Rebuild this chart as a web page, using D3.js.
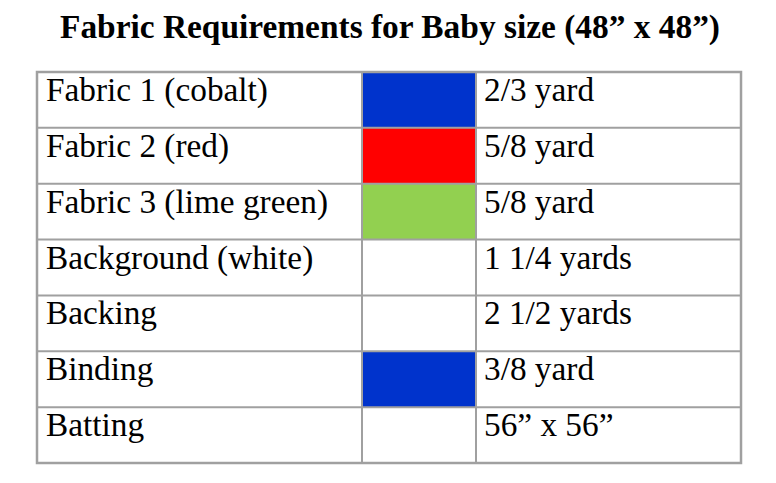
<!DOCTYPE html>
<html>
<head>
<meta charset="utf-8">
<script src="https://cdn.jsdelivr.net/npm/d3@7"></script>
<style>
  html, body { margin: 0; padding: 0; background: #fff; }
  svg { display: block; }
</style>
</head>
<body>
<svg id="chart" width="776" height="483"></svg>
<script>
// ---- data ----
const title = "Fabric Requirements for Baby size (48\u201d x 48\u201d)";
const fabrics = ["Fabric 1 (cobalt)", "Fabric 2 (red)", "Fabric 3 (lime green)", "Background (white)", "Backing", "Binding", "Batting"];
const swatches = ["#0033cc", "#ff0000", "#92d050", null, null, "#0033cc", null];
const amounts = ["2/3 yard", "5/8 yard", "5/8 yard", "1 1/4 yards", "2 1/2 yards", "3/8 yard", "56\u201d x 56\u201d"];

// ---- layout ----
const W = 776, H = 483;
const tableLeft = 37, tableRight = 741, tableTop = 72, tableBottom = 463;
const colEdges = [37, 362, 476, 741];
const gridColor = "#a0a0a0";
const fontFamily = "'Liberation Serif', 'Times New Roman', serif";

const svg = d3.select("#chart");
svg.append("rect").attr("width", W).attr("height", H).attr("fill", "#fff");

svg.append("text")
  .attr("x", (tableLeft + tableRight) / 2 + 1)
  .attr("y", 38)
  .attr("text-anchor", "middle")
  .attr("font-family", fontFamily)
  .attr("font-weight", "bold")
  .attr("font-size", 33.4)
  .attr("fill", "#000")
  .text(title);

const y = d3.scaleBand().domain(d3.range(fabrics.length)).range([tableTop, tableBottom]);

const rows = svg.append("g").selectAll("g")
  .data(fabrics.map((f, i) => ({ fabric: f, swatch: swatches[i], amount: amounts[i], i })))
  .join("g")
  .attr("transform", d => `translate(0,${y(d.i)})`);

// swatch cells
rows.filter(d => d.swatch)
  .append("rect")
  .attr("x", colEdges[1])
  .attr("y", 0)
  .attr("width", colEdges[2] - colEdges[1])
  .attr("height", y.bandwidth())
  .attr("fill", d => d.swatch);

rows.append("text")
  .attr("x", colEdges[0] + 9)
  .attr("y", 29)
  .attr("font-family", fontFamily)
  .attr("font-size", 33.3)
  .attr("fill", "#000")
  .text(d => d.fabric);

rows.append("text")
  .attr("x", colEdges[2] + 8)
  .attr("y", 29)
  .attr("font-family", fontFamily)
  .attr("font-size", 33.3)
  .attr("fill", "#000")
  .text(d => d.amount);

// grid lines
const grid = svg.append("g").attr("stroke", gridColor).attr("fill", "none");
grid.selectAll("line.h")
  .data(d3.range(1, fabrics.length))
  .join("line")
  .attr("class", "h")
  .attr("x1", tableLeft).attr("x2", tableRight)
  .attr("y1", d => y(d)).attr("y2", d => y(d))
  .attr("stroke-width", 2);
grid.selectAll("line.v")
  .data(colEdges.slice(1, -1))
  .join("line")
  .attr("class", "v")
  .attr("x1", d => d).attr("x2", d => d)
  .attr("y1", tableTop).attr("y2", tableBottom)
  .attr("stroke-width", 2);
grid.append("rect")
  .attr("x", tableLeft).attr("y", tableTop)
  .attr("width", tableRight - tableLeft)
  .attr("height", tableBottom - tableTop)
  .attr("stroke-width", 2.5);
</script>
</body>
</html>
